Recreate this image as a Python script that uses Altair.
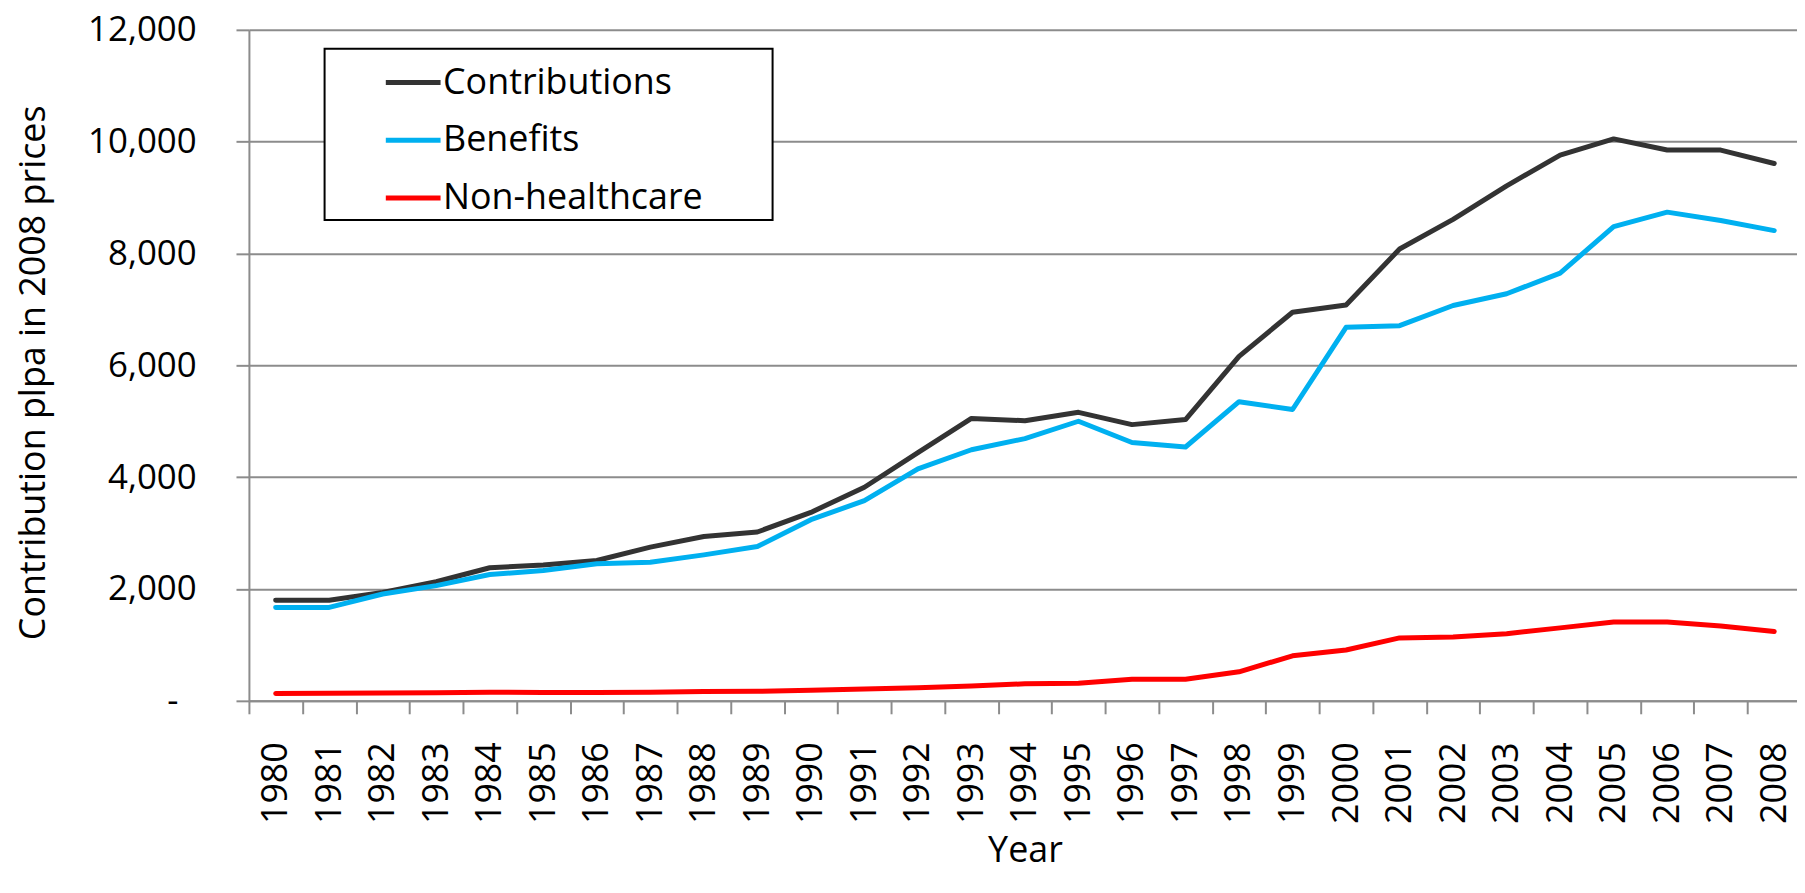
import altair as alt
import pandas as pd

years = list(range(1980, 2009))
contributions = [1800, 1800, 1940, 2130, 2380, 2430, 2510, 2750, 2940, 3020,
                 3370, 3820, 4440, 5050, 5010, 5160, 4940, 5030, 6160, 6950,
                 7080, 8080, 8610, 9210, 9760, 10050, 9850, 9850, 9610]
benefits = [1670, 1670, 1910, 2060, 2260, 2330, 2450, 2480, 2610, 2760,
            3240, 3580, 4150, 4490, 4690, 5000, 4620, 4540, 5350, 5210,
            6680, 6710, 7070, 7280, 7650, 8480, 8740, 8590, 8410]
non_healthcare = [130, 135, 140, 145, 155, 150, 150, 155, 165, 170,
                  190, 210, 235, 265, 305, 315, 385, 385, 520, 805,
                  910, 1125, 1140, 1200, 1305, 1410, 1410, 1340, 1240]

series_names = ["Contributions", "Benefits", "Non-healthcare"]
series_colors = ["#333333", "#00B0F0", "#FF0000"]
y_ticks = [0, 2000, 4000, 6000, 8000, 10000, 12000]

rows = []
for name, vals in zip(series_names, [contributions, benefits, non_healthcare]):
    for yr, v in zip(years, vals):
        rows.append({"Year": yr, "Value": v, "Series": name})
df = pd.DataFrame(rows)

FONT = "Open Sans"
NB = "\u00a0"
ZW = "\u200b"

chart = alt.Chart(df).mark_line(
    strokeWidth=5, strokeCap="round", strokeJoin="round"
).encode(
    x=alt.X(
        "Year:O",
        bandPosition=0.5,
        scale=alt.Scale(type="band", paddingInner=0, paddingOuter=0, range=[0, 1559]),
        axis=alt.Axis(
            title="Year",
            labelAngle=270,
            labelFont=FONT,
            labelFontSize=36,
            labelColor="black",
            labelPadding=28,
            tickBand="extent",
            tickSize=13,
            tickColor="#8c8c8c",
            tickWidth=2,
            domainColor="#8c8c8c",
            domainWidth=2,
            grid=False,
            titleFont=FONT,
            titleFontSize=36,
            titleFontWeight="normal",
            titleColor="black",
            titleBaseline="alphabetic",
            titleY=161,
        ),
    ),
    y=alt.Y(
        "Value:Q",
        scale=alt.Scale(domain=[0, 12000], nice=False),
        axis=alt.Axis(
            title="Contribution plpa in 2008 prices",
            values=y_ticks,
            labelExpr=f"datum.value == 0 ? '-{NB}{NB}{ZW}' : format(datum.value, ',')",
            labelFont=FONT,
            labelFontSize=35,
            labelColor="black",
            labelPadding=40,
            tickSize=13,
            tickColor="#8c8c8c",
            tickWidth=2,
            domainColor="#8c8c8c",
            domainWidth=2,
            grid=True,
            gridColor="#8c8c8c",
            gridWidth=2,
            titleFont=FONT,
            titleFontSize=36,
            titleFontWeight="normal",
            titleColor="black",
            titleBaseline="bottom",
            titleX=-197,
            titleY=344,
        ),
    ),
    color=alt.Color(
        "Series:N",
        sort=series_names,
        scale=alt.Scale(domain=series_names, range=series_colors),
        legend=alt.Legend(
            title=None,
            orient="none",
            legendX=76,
            legendY=19,
            symbolType="stroke",
            symbolSize=3025,
            symbolStrokeWidth=5,
            symbolOffset=55,
            labelFont=FONT,
            labelFontSize=36,
            labelColor="black",
            labelLimit=800,
            labelOffset=0,
            labelExpr=f"datum.label + '{NB*7}{ZW}'",
            padding=4,
            rowPadding=10,
            strokeColor="black",
            fillColor="white",
        ),
    ),
).properties(
    width=1555,
    height=674,
    autosize=alt.AutoSizeParams(type="none"),
    padding={"left": 242, "top": 20, "right": 0, "bottom": 172},
).configure(
    font=FONT,
).configure_view(
    strokeWidth=0,
).configure_legend(
    strokeWidth=2,
)

chart.save("out.html", embed_options={"renderer": "svg", "actions": False})
